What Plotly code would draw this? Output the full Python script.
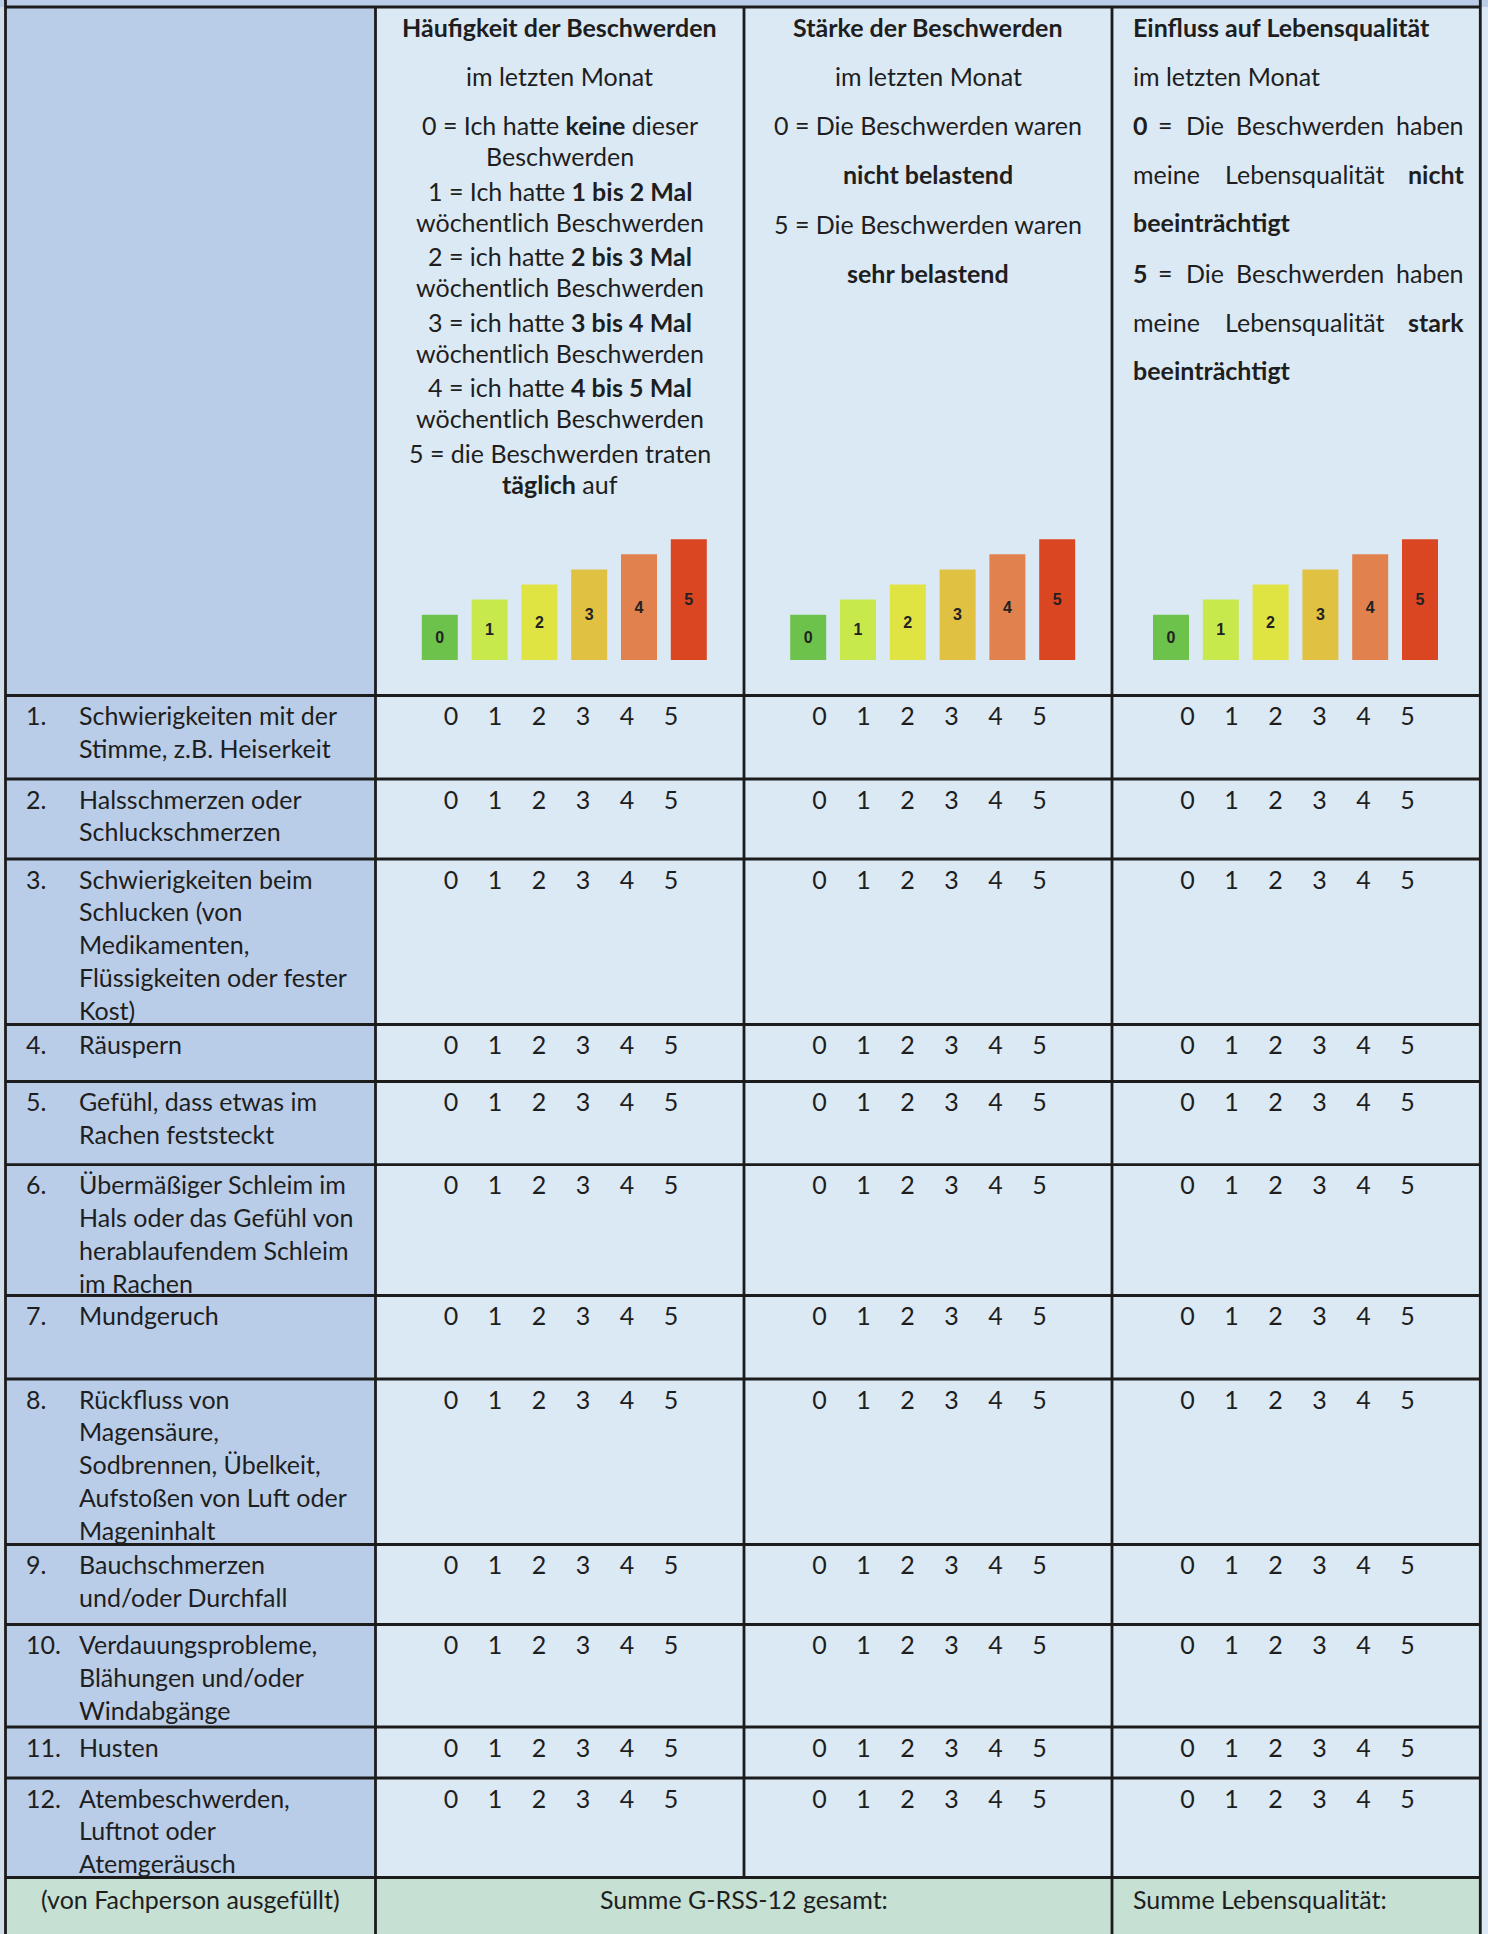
import plotly.graph_objects as go

# ---------------- data ----------------
scale_values = [0, 1, 2, 3, 4, 5]
bar_heights = [3, 4, 5, 6, 7, 8]
bar_labels = ["0", "1", "2", "3", "4", "5"]

col1_lines = [
    "<b>Häufigkeit der Beschwerden</b>",
    "im letzten Monat",
    "0 = Ich hatte <b>keine</b> dieser",
    "Beschwerden",
    "1 = Ich hatte <b>1 bis 2 Mal</b>",
    "wöchentlich Beschwerden",
    "2 = ich hatte <b>2 bis 3 Mal</b>",
    "wöchentlich Beschwerden",
    "3 = ich hatte <b>3 bis 4 Mal</b>",
    "wöchentlich Beschwerden",
    "4 = ich hatte <b>4 bis 5 Mal</b>",
    "wöchentlich Beschwerden",
    "5 = die Beschwerden traten",
    "<b>täglich</b> auf",
]
col2_lines = [
    "<b>Stärke der Beschwerden</b>",
    "im letzten Monat",
    "0 = Die Beschwerden waren",
    "<b>nicht belastend</b>",
    "5 = Die Beschwerden waren",
    "<b>sehr belastend</b>",
]
# column 3: justified lines as word lists
col3_lines = [
    ["<b>Einfluss auf Lebensqualität</b>"],
    ["im letzten Monat"],
    ["<b>0</b>", "=", "Die", "Beschwerden", "haben"],
    ["meine", "Lebensqualität", "<b>nicht</b>"],
    ["<b>beeinträchtigt</b>"],
    ["<b>5</b>", "=", "Die", "Beschwerden", "haben"],
    ["meine", "Lebensqualität", "<b>stark</b>"],
    ["<b>beeinträchtigt</b>"],
]

item_numbers = ["1.", "2.", "3.", "4.", "5.", "6.", "7.", "8.", "9.", "10.", "11.", "12."]
item_lines = [
    ["Schwierigkeiten mit der", "Stimme, z.B. Heiserkeit"],
    ["Halsschmerzen oder", "Schluckschmerzen"],
    ["Schwierigkeiten beim", "Schlucken (von", "Medikamenten,", "Flüssigkeiten oder fester", "Kost)"],
    ["Räuspern"],
    ["Gefühl, dass etwas im", "Rachen feststeckt"],
    ["Übermäßiger Schleim im", "Hals oder das Gefühl von", "herablaufendem Schleim", "im Rachen"],
    ["Mundgeruch"],
    ["Rückfluss von", "Magensäure,", "Sodbrennen, Übelkeit,", "Aufstoßen von Luft oder", "Mageninhalt"],
    ["Bauchschmerzen", "und/oder Durchfall"],
    ["Verdauungsprobleme,", "Blähungen und/oder", "Windabgänge"],
    ["Husten"],
    ["Atembeschwerden,", "Luftnot oder", "Atemgeräusch"],
]

footer_texts = ["(von Fachperson ausgefüllt)", "Summe G-RSS-12 gesamt:", "Summe Lebensqualität:"]

# ---------------- layout geometry (pixels) ----------------
W, H = 1488, 1934
X_LEFT, X_C1, X_C2, X_C3, X_RIGHT = 5.5, 375.5, 744, 1112, 1480.3
Y_TOP = 7
ROW_BOUNDS = [695.5, 779, 859, 1024.5, 1081.5, 1164.7, 1295.5, 1379, 1544.5, 1624.5, 1727, 1778, 1877.5]
Y_FOOT = ROW_BOUNDS[-1]
LINE_H = 32.8
FIRST_OFF = 19.5
DIGIT_DY = 4.0

COL1_Y = [27, 76, 125, 156, 190.5, 222, 256, 286.5, 321.5, 352.8, 387, 418.3, 453, 483.5]
COL2_Y = [27, 76, 125, 173.5, 224, 272.7]
COL3_Y = [27, 76, 125, 173.5, 222, 272.7, 321.7, 370]
COL3_X_LEFT, COL3_X_RIGHT = 1131, 1466
# word placement for justified lines: ("l", x) left edge, ("c", x) center, ("r", x) right edge
COL3_WORD_X = {
    2: [("l", 1131), ("c", 1165), ("c", 1205), ("c", 1310), ("r", 1466)],
    3: [("l", 1131), ("c", 1305), ("r", 1466)],
    5: [("l", 1131), ("c", 1165), ("c", 1205), ("c", 1310), ("r", 1466)],
    6: [("l", 1131), ("c", 1305), ("r", 1466)],
}
ANCH = {"l": "left", "c": "center", "r": "right"}

SCALE_X0 = 75.6   # offset from column left divider
SCALE_DX = 44.0
BAR_C0 = [439.8, 808.2, 1171.0]  # center of first bar per column
BAR_STEP = 49.8
BAR_BASE = 660
PX_PER_UNIT = 15.1

FONT = "Lato"
TXT = "#1e1e1e"
FS = 25
BORDER = "#1c1c1c"
C_LEFT = "#B9CDE8"
C_CELL = "#DBE9F5"
C_FOOT = "#C6E0D3"

fig = go.Figure()

shapes = []
def rect(x0, y0, x1, y1, color):
    shapes.append(dict(type="rect", xref="x", yref="y", x0=x0, y0=y0, x1=x1, y1=y1,
                       fillcolor=color, line=dict(width=0), layer="below"))
def line(x0, y0, x1, y1):
    shapes.append(dict(type="line", xref="x", yref="y", x0=x0, y0=y0, x1=x1, y1=y1,
                       line=dict(color=BORDER, width=2.8), layer="above"))

# backgrounds
rect(0, 0, W, Y_TOP, C_LEFT)
rect(X_LEFT, Y_TOP, X_C1, Y_FOOT, C_LEFT)
rect(X_C1, Y_TOP, X_RIGHT, Y_FOOT, C_CELL)
rect(X_LEFT, Y_FOOT, X_RIGHT, H, C_FOOT)
rect(0, Y_TOP, X_LEFT, H, "#D3DEEA")
rect(X_RIGHT, Y_TOP, W, H, "#DCE8F3")

# borders
line(X_LEFT, Y_TOP, X_RIGHT, Y_TOP)
for yb in ROW_BOUNDS:
    line(X_LEFT, yb, X_RIGHT, yb)
line(X_LEFT, 0, X_LEFT, H)
line(X_RIGHT, 0, X_RIGHT, H)
line(X_C1, Y_TOP, X_C1, H)
line(X_C2, Y_TOP, X_C2, Y_FOOT)
line(X_C3, Y_TOP, X_C3, H)

annotations = []
def txt(x, y, s, anchor="center", size=FS):
    annotations.append(dict(x=x, y=y, xref="x", yref="y", text=s, showarrow=False,
                            xanchor=anchor, yanchor="middle",
                            font=dict(family=FONT, size=size, color=TXT)))

# header column 1 & 2 (centered)
cx1 = (X_C1 + X_C2) / 2
cx2 = (X_C2 + X_C3) / 2
for s, y in zip(col1_lines, COL1_Y):
    txt(cx1, y, s)
for s, y in zip(col2_lines, COL2_Y):
    txt(cx2, y, s)
# header column 3 (left / justified)
for i, (words, y) in enumerate(zip(col3_lines, COL3_Y)):
    if i in COL3_WORD_X:
        for w, (a, xw) in zip(words, COL3_WORD_X[i]):
            txt(xw, y, w, anchor=ANCH[a])
    else:
        txt(COL3_X_LEFT, y, " ".join(words), anchor="left")

# row labels
row_tops = ROW_BOUNDS[:-1]
for num, lines_, top in zip(item_numbers, item_lines, row_tops):
    txt(23.5, top + FIRST_OFF, num, anchor="left")
    for j, s in enumerate(lines_):
        txt(76.5, top + FIRST_OFF + j * LINE_H, s, anchor="left")

# footer
txt((X_LEFT + X_C1) / 2, 1899, footer_texts[0])
txt((X_C1 + X_C3) / 2, 1899, footer_texts[1])
txt(1131, 1899, footer_texts[2], anchor="left")

# scale digits as a text trace
sx, sy, st = [], [], []
for top in row_tops:
    for cl in (X_C1, X_C2, X_C3):
        for v in scale_values:
            sx.append(cl + SCALE_X0 + SCALE_DX * v)
            sy.append(top + FIRST_OFF + DIGIT_DY)
            st.append(str(v))
fig.add_trace(go.Scatter(x=sx, y=sy, text=st, mode="text", xaxis="x", yaxis="y",
                         textfont=dict(family=FONT, size=FS, color=TXT),
                         textposition="middle center", hoverinfo="skip", showlegend=False))

# bar charts
bar_colors = ["#6DC24B", "#C8E94B", "#E0E442", "#E0C142", "#E0814E", "#DA4522"]
Y_UNITS = 9
for k in range(3):
    ax = k + 2
    x0px = BAR_C0[k] - BAR_STEP / 2
    x1px = x0px + BAR_STEP * 6
    ytop = BAR_BASE - PX_PER_UNIT * Y_UNITS
    fig.add_trace(go.Bar(x=scale_values, y=bar_heights, text=bar_labels,
                         marker=dict(color=bar_colors, line=dict(width=0)),
                         textposition="inside", insidetextanchor="middle",
                         constraintext="none", textangle=0,
                         textfont=dict(family="Liberation Sans", size=16, color="#222222",
                                       weight="bold"),
                         xaxis=f"x{ax}", yaxis=f"y{ax}", showlegend=False, hoverinfo="skip"))
    fig.update_layout(**{
        f"xaxis{ax}": dict(domain=[x0px / W, x1px / W], range=[-0.5, 5.5], visible=False,
                           fixedrange=True),
        f"yaxis{ax}": dict(domain=[1 - BAR_BASE / H, 1 - ytop / H], range=[0, Y_UNITS],
                           visible=False, fixedrange=True),
    })

fig.update_layout(
    width=W, height=H,
    margin=dict(l=0, r=0, t=0, b=0),
    paper_bgcolor="#FFFFFF", plot_bgcolor="rgba(0,0,0,0)",
    xaxis=dict(range=[0, W], domain=[0, 1], visible=False, fixedrange=True),
    yaxis=dict(range=[H, 0], domain=[0, 1], visible=False, fixedrange=True),
    bargap=1 - 36 / 49.8,
    shapes=shapes, annotations=annotations,
)

fig.write_html("out.html", config={"displayModeBar": False},
               post_script="document.body.style.margin='0';document.body.style.overflow='hidden';")
